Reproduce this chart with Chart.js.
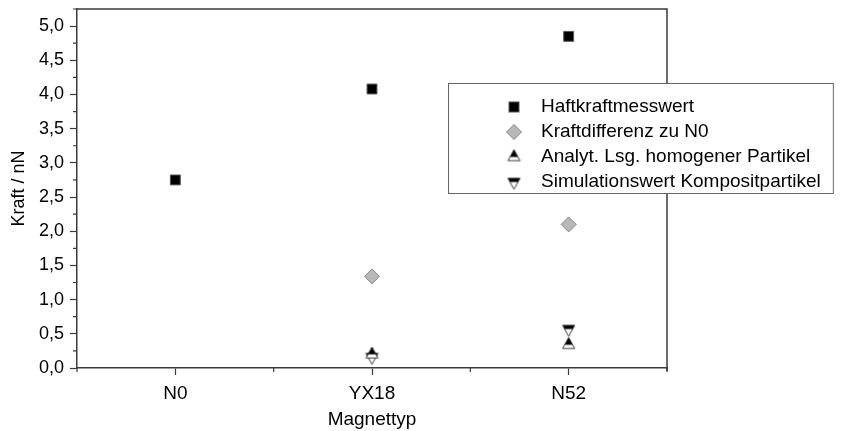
<!DOCTYPE html>
<html>
<head>
<meta charset="utf-8">
<script src="https://cdn.jsdelivr.net/npm/chart.js@4/dist/chart.umd.min.js"></script>
<style>
  html, body { margin: 0; padding: 0; background: #ffffff; }
  #wrap { width: 852px; height: 431px; position: relative; }
</style>
</head>
<body>
<div id="wrap"><canvas id="c"></canvas></div>
<script>
// Magnet types along the x axis
const categories = ['N0', 'YX18', 'N52'];

// Force values in nN per magnet type (null = no value)
const haftkraftmesswert = [2.75, 4.08, 4.85];
const kraftdifferenz   = [null, 1.34, 2.10];
const analytLsg        = [null, 0.20, 0.34];
const simulationswert  = [null, 0.16, 0.57];

const seriesNames = [
  'Haftkraftmesswert',
  'Kraftdifferenz zu N0',
  'Analyt. Lsg. homogener Partikel',
  'Simulationswert Kompositpartikel'
];

const yMin = 0, yMax = 5.25, yMajor = 0.5, yMinor = 0.25;
const xMin = -0.5, xMax = 2.5;

const FONT = '"Liberation Sans", Arial, sans-serif';
const AXIS = '#3a3a3a';
const TEXT = '#000000';

function toPoints(values) {
  const pts = [];
  values.forEach((v, i) => { if (v !== null) pts.push({ x: i, y: v }); });
  return pts;
}

// Half-filled triangle marker, centred on its centroid:
// the part above the centre is black, the part below is white.
function halfTriangle(down) {
  const s = 17;
  const cv = document.createElement('canvas');
  cv.width = s; cv.height = s;
  const g = cv.getContext('2d');
  const cx = s / 2, cy = s / 2, w = 6, H = 11;
  g.beginPath();
  if (down) {
    g.moveTo(cx - w, cy - H / 3); g.lineTo(cx + w, cy - H / 3); g.lineTo(cx, cy + 2 * H / 3);
  } else {
    g.moveTo(cx, cy - 2 * H / 3); g.lineTo(cx + w, cy + H / 3); g.lineTo(cx - w, cy + H / 3);
  }
  g.closePath();
  g.fillStyle = '#ffffff';
  g.fill();
  g.save();
  g.clip();
  g.fillStyle = '#000000';
  g.fillRect(0, 0, s, cy);
  g.restore();
  g.strokeStyle = '#222222';
  g.lineWidth = 0.9;
  g.stroke();
  return cv;
}

const triUp = halfTriangle(false);
const triDown = halfTriangle(true);

const isMajorY = v => Math.abs(v / yMajor - Math.round(v / yMajor)) < 1e-6;
const isMajorX = v => Math.abs(v - Math.round(v)) < 1e-6;

// Box frame (top and right edges) and minor ticks
const framePlugin = {
  id: 'frame',
  beforeDatasetsDraw(chart) {
    const { ctx, chartArea: a, scales } = chart;
    ctx.save();
    ctx.strokeStyle = AXIS;
    ctx.lineWidth = 1.5;
    ctx.beginPath();
    ctx.moveTo(a.left, a.top);
    ctx.lineTo(a.right, a.top);
    ctx.lineTo(a.right, a.bottom + 3);
    ctx.stroke();
    ctx.lineWidth = 1.2;
    ctx.beginPath();
    scales.y.ticks.forEach(t => {
      if (!isMajorY(t.value)) {
        const py = scales.y.getPixelForValue(t.value);
        ctx.moveTo(a.left - 4, py); ctx.lineTo(a.left, py);
      }
    });
    scales.x.ticks.forEach(t => {
      if (!isMajorX(t.value)) {
        const px = scales.x.getPixelForValue(t.value);
        ctx.moveTo(px, a.bottom); ctx.lineTo(px, a.bottom + 4);
      }
    });
    ctx.stroke();
    ctx.restore();
  }
};

// Boxed legend overlapping the upper right of the plot
const legendPlugin = {
  id: 'boxLegend',
  afterDraw(chart) {
    const { ctx } = chart;
    const left = 448, top = 83, bottom = 193;
    const markerX = 514, textX = 541, row0 = 107, rowStep = 25;
    ctx.save();
    ctx.font = '19px ' + FONT;
    let maxW = 0;
    seriesNames.forEach(n => { maxW = Math.max(maxW, ctx.measureText(n).width); });
    const right = textX + maxW + 12;
    ctx.fillStyle = '#ffffff';
    ctx.fillRect(left, top, right - left, bottom - top);
    ctx.strokeStyle = '#666666';
    ctx.lineWidth = 1;
    ctx.strokeRect(left + 0.5, top + 0.5, right - left, bottom - top);

    chart.data.datasets.forEach((ds, i) => {
      const y = row0 + i * rowStep;
      const st = ds.pointStyle;
      if (st === 'rect') {
        ctx.fillStyle = ds.backgroundColor;
        ctx.strokeStyle = ds.borderColor;
        ctx.fillRect(markerX - 5, y - 5, 10, 10);
        ctx.strokeRect(markerX - 5, y - 5, 10, 10);
      } else if (st === 'rectRot') {
        const r = ds.pointRadius;
        ctx.beginPath();
        ctx.moveTo(markerX, y - r); ctx.lineTo(markerX + r, y);
        ctx.lineTo(markerX, y + r); ctx.lineTo(markerX - r, y);
        ctx.closePath();
        ctx.fillStyle = ds.backgroundColor;
        ctx.fill();
        ctx.strokeStyle = ds.borderColor;
        ctx.stroke();
      } else {
        ctx.drawImage(st, markerX - st.width / 2, y - st.height / 2);
      }
      ctx.fillStyle = TEXT;
      ctx.textBaseline = 'middle';
      ctx.textAlign = 'left';
      ctx.fillText(ds.label, textX, y);
    });
    ctx.restore();
  }
};

new Chart(document.getElementById('c'), {
  type: 'scatter',
  data: {
    datasets: [
      {
        label: seriesNames[0],
        data: toPoints(haftkraftmesswert),
        pointStyle: 'rect',
        pointRadius: 7,
        pointHoverRadius: 7,
        backgroundColor: '#000000',
        borderColor: '#555555',
        borderWidth: 1
      },
      {
        label: seriesNames[1],
        data: toPoints(kraftdifferenz),
        pointStyle: 'rectRot',
        pointRadius: 7.5,
        pointHoverRadius: 7.5,
        backgroundColor: '#b8b8b8',
        borderColor: '#858585',
        borderWidth: 1
      },
      {
        label: seriesNames[2],
        data: toPoints(analytLsg),
        pointStyle: triUp,
        pointRadius: 6,
        backgroundColor: '#000000',
        borderColor: '#000000'
      },
      {
        label: seriesNames[3],
        data: toPoints(simulationswert),
        pointStyle: triDown,
        pointRadius: 6,
        backgroundColor: '#000000',
        borderColor: '#000000'
      }
    ]
  },
  options: {
    responsive: true,
    maintainAspectRatio: false,
    animation: false,
    events: [],
    layout: { padding: { top: 9, right: 185, left: 0, bottom: 0 } },
    plugins: {
      legend: { display: false },
      tooltip: { enabled: false }
    },
    scales: {
      x: {
        type: 'linear',
        min: xMin,
        max: xMax,
        afterFit(scale) { scale.height = 63; scale.paddingLeft = 0; scale.paddingRight = 0; },
        border: { display: true, color: AXIS, width: 1.5 },
        grid: {
          drawOnChartArea: false,
          drawTicks: true,
          tickLength: 7,
          tickWidth: 1.2,
          tickColor: c => (c.tick && isMajorX(c.tick.value)) ? AXIS : 'rgba(0,0,0,0)'
        },
        ticks: {
          stepSize: 0.5,
          autoSkip: false,
          maxRotation: 0,
          padding: 7,
          color: TEXT,
          font: { family: FONT, size: 19 },
          callback: v => isMajorX(v) ? (categories[Math.round(v)] || '') : ''
        },
        title: {
          display: true,
          text: 'Magnettyp',
          color: TEXT,
          font: { family: FONT, size: 19 },
          padding: { top: 0, bottom: 0 }
        }
      },
      y: {
        type: 'linear',
        min: yMin,
        max: yMax,
        afterFit(scale) { scale.width = 77; scale.paddingTop = 0; scale.paddingBottom = 0; },
        border: { display: true, color: AXIS, width: 1.5 },
        grid: {
          drawOnChartArea: false,
          drawTicks: true,
          tickLength: 7,
          tickWidth: 1.2,
          tickColor: c => (c.tick && isMajorY(c.tick.value)) ? AXIS : 'rgba(0,0,0,0)'
        },
        ticks: {
          stepSize: yMinor,
          maxTicksLimit: 100,
          autoSkip: false,
          padding: 6,
          color: TEXT,
          font: { family: FONT, size: 18 },
          callback: v => isMajorY(v) ? v.toFixed(1).replace('.', ',') : ''
        },
        title: {
          display: true,
          text: 'Kraft / nN',
          color: TEXT,
          font: { family: FONT, size: 18 },
          padding: { top: 8, bottom: 0 }
        }
      }
    }
  },
  plugins: [framePlugin, legendPlugin]
});
</script>
</body>
</html>
